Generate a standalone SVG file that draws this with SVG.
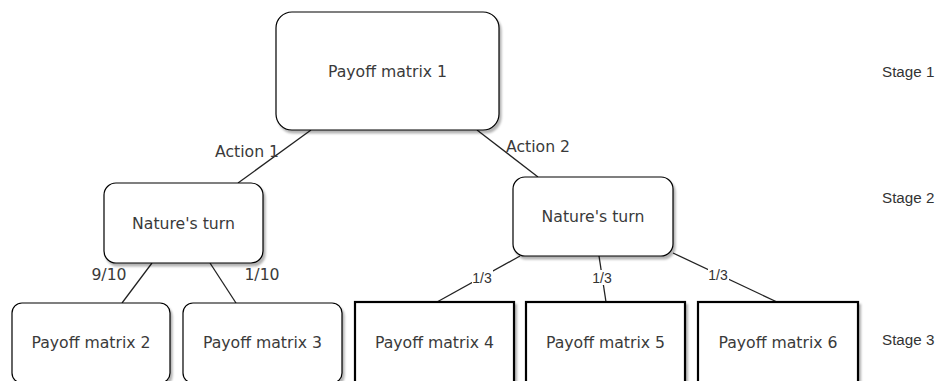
<svg xmlns="http://www.w3.org/2000/svg" width="937" height="381" viewBox="0 0 937 381">
<defs>
<filter id="sh" x="-10%" y="-10%" width="130%" height="130%">
<feDropShadow dx="2" dy="3" stdDeviation="1.2" flood-color="#000" flood-opacity="0.3"/>
</filter>
</defs>
<style>
.box{fill:#fff;stroke:#000;stroke-width:1.2;filter:url(#sh)}
.thick{fill:#fff;stroke:#000;stroke-width:2.2;filter:url(#sh)}
.t{font-family:"DejaVu Sans",Verdana,sans-serif;font-size:15.7px;fill:#3a3a3a;text-anchor:middle}
.s{font-family:"Liberation Sans",Arial,sans-serif;font-size:15.2px;fill:#333}
.p{font-family:"Liberation Sans",Arial,sans-serif;font-size:14px;fill:#333;text-anchor:middle}
.e{stroke:#222;stroke-width:1.3;fill:none}
.bg{fill:#fff}
</style>
<rect width="937" height="381" fill="#fff"/>
<g id="connectors">
<line class="e" x1="311" y1="130" x2="238" y2="183"/>
<line class="e" x1="477" y1="130" x2="538" y2="177"/>
<line class="e" x1="152" y1="263" x2="122" y2="303"/>
<line class="e" x1="210" y1="263" x2="236" y2="303"/>
<line class="e" x1="520" y1="256" x2="437" y2="302"/>
<line class="e" x1="599" y1="256" x2="606" y2="302"/>
<line class="e" x1="673" y1="253" x2="777" y2="302"/>
<text class="t" x="247" y="157">Action 1</text>
<text class="t" x="538" y="152">Action 2</text>
<text class="t" x="109" y="280">9/10</text>
<text class="t" x="262" y="280">1/10</text>
<rect class="bg" x="472" y="270" width="21" height="15"/>
<text class="p" x="482" y="283">1/3</text>
<rect class="bg" x="592" y="270" width="21" height="15"/>
<text class="p" x="602" y="283">1/3</text>
<rect class="bg" x="708" y="267" width="21" height="15"/>
<text class="p" x="718" y="280">1/3</text>
</g>
<g id="n1"><rect class="box" x="276" y="12" width="223" height="118" rx="16"/><text class="t" x="387.5" y="77">Payoff matrix 1</text></g>
<g id="n2"><rect class="box" x="104" y="183" width="159" height="80" rx="12"/><text class="t" x="183.5" y="229">Nature's turn</text></g>
<g id="n3"><rect class="box" x="513" y="177" width="160" height="79" rx="12"/><text class="t" x="593" y="222">Nature's turn</text></g>
<g id="n4"><rect class="box" x="12" y="303" width="158" height="80" rx="10"/><text class="t" x="91" y="348">Payoff matrix 2</text></g>
<g id="n5"><rect class="box" x="183" y="303" width="159" height="80" rx="10"/><text class="t" x="262.5" y="348">Payoff matrix 3</text></g>
<g id="n6"><rect class="thick" x="355" y="302" width="159" height="82"/><text class="t" x="434.5" y="348">Payoff matrix 4</text></g>
<g id="n7"><rect class="thick" x="526" y="302" width="159" height="82"/><text class="t" x="605.5" y="348">Payoff matrix 5</text></g>
<g id="n8"><rect class="thick" x="698" y="302" width="160" height="82"/><text class="t" x="778" y="348">Payoff matrix 6</text></g>
<g id="stages">
<text class="s" x="882" y="77">Stage 1</text>
<text class="s" x="882" y="203">Stage 2</text>
<text class="s" x="882" y="345">Stage 3</text>
</g>
</svg>
